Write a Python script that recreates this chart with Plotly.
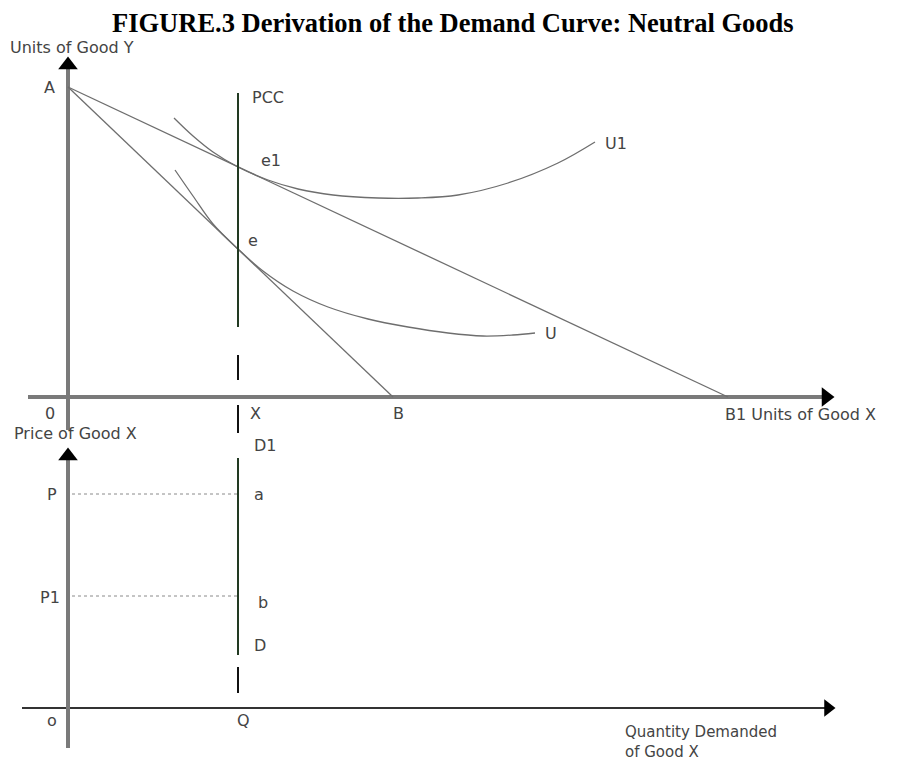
import plotly.graph_objects as go

# ---------------- data (diagram units) ----------------
# Top panel: indifference map / budget lines
A_y = 31.0          # Y-intercept of both budget lines (point A)
B_x = 32.5          # original budget line X-intercept (point B)
B1_x = 66.0         # new budget line X-intercept after fall in price (B1)
X_q = 17.0          # quantity of X demanded (unchanged: neutral good)

U_x = [10.7, 12.5, 14.5, 17.0, 19.5, 22.5, 26.0, 30.0, 34.0, 38.0, 41.5, 44.5, 46.7]
U_y = [22.7, 20.1, 17.3, 14.8, 12.6, 10.6, 9.0, 7.8, 7.0, 6.4, 6.1, 6.2, 6.4]

U1_x = [10.6, 12.5, 14.5, 17.0, 20.0, 23.0, 26.5, 31.0, 35.0, 39.0, 44.0, 49.0, 52.7]
U1_y = [27.9, 26.1, 24.5, 23.0, 21.7, 20.8, 20.2, 19.9, 19.9, 20.2, 21.4, 23.4, 25.5]

PCC_top = 30.4      # top of the PCC line
PCC_bottom = 7.0    # where the solid PCC line stops

# Bottom panel: demand
P_price = 21.4
P1_price = 11.2
D_top = 25.0
D_bottom = 5.3

# axis extents
top_x_axis = [-4.0, 75.8]
top_y_axis = [-3.3, 33.2]
bot_x_axis = [-4.6, 76.0]
bot_y_axis = [-4.0, 25.2]

GREY = "#7a7a7a"
THIN = "#6e6e6e"
PCC_COL = "#223a22"
TXT = "#444444"

fig = go.Figure()

def line(x, y, color, width, yaxis="y", dash=None, shape="linear"):
    fig.add_trace(go.Scatter(x=x, y=y, mode="lines", yaxis=yaxis, hoverinfo="skip",
                             line=dict(color=color, width=width, dash=dash, shape=shape),
                             showlegend=False))

def head(x, y, symbol, size, yaxis="y"):
    fig.add_trace(go.Scatter(x=[x], y=[y], mode="markers", yaxis=yaxis, hoverinfo="skip",
                             showlegend=False,
                             marker=dict(symbol=symbol, size=size, color="black")))

# ---- top panel ----
line(top_x_axis, [0, 0], GREY, 4)
line([0, 0], top_y_axis, GREY, 4)
head(top_x_axis[1], 0, "triangle-right", 17)
head(0, top_y_axis[1], "triangle-up", 17)

line([0, B_x], [A_y, 0], THIN, 1.3)
line([0, B1_x], [A_y, 0], THIN, 1.3)
line(U_x, U_y, THIN, 1.3, shape="spline")
line(U1_x, U1_y, THIN, 1.3, shape="spline")

line([X_q, X_q], [PCC_top, PCC_bottom], PCC_COL, 2)
line([X_q, X_q], [4.2, 1.7], "#111", 2)
line([X_q, X_q], [-0.8, -3.6], "#111", 2)

# ---- bottom panel ----
line(bot_x_axis, [0, 0], "#333333", 2, yaxis="y2")
line([0, 0], bot_y_axis, GREY, 4, yaxis="y2")
head(bot_x_axis[1], 0, "triangle-right", 15, yaxis="y2")
head(0, bot_y_axis[1], "triangle-up", 17, yaxis="y2")

line([0.4, X_q], [P_price, P_price], "#8a8a8a", 1, yaxis="y2", dash="dot")
line([0.4, X_q], [P1_price, P1_price], "#8a8a8a", 1, yaxis="y2", dash="dot")
line([X_q, X_q], [D_top, D_bottom], PCC_COL, 2, yaxis="y2")
line([X_q, X_q], [4.1, 1.5], "#111", 2, yaxis="y2")

# ---------------- labels ----------------
FS = 16

def lab(text, x, y, yref="y", xanchor="left", size=FS):
    fig.add_annotation(text=text, x=x, y=y, xref="x", yref=yref, showarrow=False,
                       xanchor=xanchor, yanchor="middle", align="left",
                       font=dict(family="DejaVu Sans", size=size, color=TXT))

lab("Units of Good Y", -6.0, 35.0)
lab("A", -1.1, A_y, xanchor="right")
lab("PCC", X_q + 1.2, PCC_top - 0.4)
lab("e1", X_q + 2.1, 23.7)
lab("e", X_q + 0.8, 15.7)
lab("U1", U1_x[-1] + 0.8, U1_y[-1] - 0.1)
lab("U", U_x[-1] + 0.8, U_y[-1])
lab("0", -1.8, -1.6, xanchor="center")
lab("X", X_q + 1.7, -1.6, xanchor="center")
lab("B", B_x + 0.5, -1.6, xanchor="center")
lab("B1 Units of Good X", B1_x - 0.5, -1.7)
lab("Price of Good X", -5.6, -3.6)

lab("D1", X_q + 1.4, 26.3, yref="y2")
lab("P", -1.6, P_price, yref="y2", xanchor="center")
lab("a", X_q + 1.4, P_price, yref="y2")
lab("P1", -0.6, P1_price - 0.1, yref="y2", xanchor="right")
lab("b", X_q + 1.8, P1_price - 0.6, yref="y2")
lab("D", X_q + 1.4, D_bottom + 1.0, yref="y2")
lab("o", -1.6, -1.2, yref="y2", xanchor="center")
lab("Q", X_q + 0.5, -1.2, yref="y2", xanchor="center")
lab("Quantity Demanded<br>of Good X", 55.5, -3.35, yref="y2", size=15)

# the page body has an 8px margin; the figure is sized/offset to compensate
W, H, OFF = 905 - 8, 760 - 8, 8
fig.add_annotation(text="<b>FIGURE.3 Derivation of the Demand Curve: Neutral Goods</b>",
                   x=(453 - OFF) / W, y=1 - (23 - OFF) / H, xref="paper", yref="paper",
                   showarrow=False, xanchor="center", yanchor="middle",
                   font=dict(family="Liberation Serif", size=26.5, color="black"))

split = 1 - (440 - OFF) / H
fig.update_layout(
    width=W, height=H,
    margin=dict(l=0, r=0, t=0, b=0),
    paper_bgcolor="white", plot_bgcolor="white",
    xaxis=dict(range=[-6.0, 83.7], visible=False),
    yaxis=dict(range=[-4.3, 38.9], domain=[split, 1], visible=False),
    yaxis2=dict(range=[-5.2, 26.8], domain=[0, split], visible=False),
    showlegend=False,
)

fig.write_html("out.html")
